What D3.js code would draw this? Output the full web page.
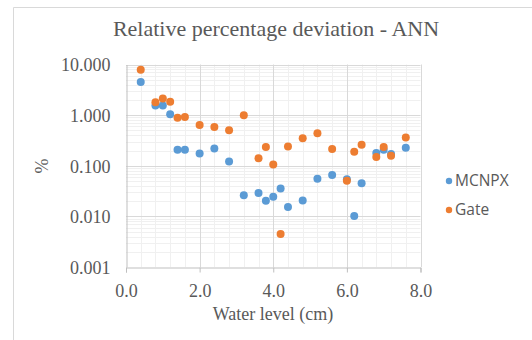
<!DOCTYPE html>
<html><head><meta charset="utf-8">
<script src="https://cdn.jsdelivr.net/npm/d3@7"></script>
<style>body{margin:0;background:#fff;}svg{display:block;}
svg text{font-family:"Liberation Serif","Times New Roman",serif !important;}
svg text.sans{font-family:"Open Sans","Liberation Sans",sans-serif !important;}
</style>
</head><body>
<svg id="c" width="532" height="340"></svg>
<script>
const waterLevel = [0.4,0.8,1.0,1.2,1.4,1.6,2.0,2.4,2.8,3.2,3.6,3.8,4.0,4.2,4.4,4.8,5.2,5.6,6.0,6.2,6.4,6.8,7.0,7.2,7.6];
const mcnpx = [4.5,1.55,1.55,1.04,0.207,0.207,0.175,0.22,0.122,0.026,0.029,0.0203,0.0243,0.0355,0.0154,0.0206,0.0553,0.066,0.054,0.0102,0.045,0.178,0.207,0.17,0.227];
const gate = [7.9,1.79,2.12,1.83,0.89,0.92,0.64,0.58,0.50,1.0,0.14,0.235,0.106,0.0045,0.24,0.35,0.44,0.214,0.0505,0.19,0.26,0.149,0.235,0.158,0.36];
const xTicks = [0,2,4,6,8];
const yTicks = [0.001,0.01,0.1,1,10];
const seriesNames = ["MCNPX","Gate"];
const colors = ["#5B9BD5","#ED7D31"];

const svg = d3.select("#c");
svg.append("line").attr("x1",13.5).attr("x2",532).attr("y1",7.5).attr("y2",7.5).attr("stroke","#d9d9d9");
svg.append("line").attr("x1",13.5).attr("x2",13.5).attr("y1",7.5).attr("y2",340).attr("stroke","#d9d9d9");

const L=126, R=420.5, T=64.5, B=267;
const x = d3.scaleLinear().domain([0,8]).range([L,R]);
const y = d3.scaleLog().domain([0.001,10]).range([B,T]);

const g = svg.append("g");
const minorX = d3.range(0,8.0001,0.4).filter(v=>Math.abs(v/2-Math.round(v/2))>1e-6);
g.selectAll(".mx").data(minorX).join("line")
  .attr("x1",d=>Math.round(x(d))+0.5).attr("x2",d=>Math.round(x(d))+0.5).attr("y1",T).attr("y2",B)
  .attr("stroke","#f0f0f0");
const minorY=[];
[0.001,0.01,0.1,1].forEach(d=>{for(let k=2;k<=9;k++)minorY.push(d*k);});
g.selectAll(".my").data(minorY).join("line")
  .attr("x1",L).attr("x2",R).attr("y1",d=>Math.round(y(d))+0.5).attr("y2",d=>Math.round(y(d))+0.5)
  .attr("stroke","#f0f0f0");
g.selectAll(".Mx").data(xTicks.slice(1)).join("line")
  .attr("x1",d=>Math.round(x(d))+0.5).attr("x2",d=>Math.round(x(d))+0.5).attr("y1",T).attr("y2",B)
  .attr("stroke","#d9d9d9");
g.selectAll(".My").data(yTicks.slice(1)).join("line")
  .attr("x1",L).attr("x2",R).attr("y1",d=>Math.round(y(d))+0.5).attr("y2",d=>Math.round(y(d))+0.5)
  .attr("stroke","#d9d9d9");

const xAxis = d3.axisBottom(x).tickValues(xTicks).tickFormat(d3.format(".1f")).tickSize(5).tickPadding(12);
const yAxis = d3.axisLeft(y).tickValues(yTicks).tickFormat(d3.format(".3f")).tickSize(0).tickPadding(16);
const gx = svg.append("g").attr("transform",`translate(0,${B+0.5})`).call(xAxis);
const gy = svg.append("g").attr("transform",`translate(${L+0.5},0)`).call(yAxis);
[gx,gy].forEach(a=>{
  a.attr("font-family",null).attr("font-size",null);
  a.select(".domain").attr("stroke","#bfbfbf");
  a.selectAll(".tick line").attr("stroke","#bfbfbf");
  a.selectAll("text").attr("fill","#595959").attr("font-size","18px");
});
gy.selectAll("text").attr("dy","0.35em");

seriesNames.forEach((name,i)=>{
  const vals = i===0?mcnpx:gate;
  svg.append("g").selectAll("circle").data(waterLevel.map((w,j)=>[w,vals[j]])).join("circle")
    .attr("cx",d=>x(d[0])).attr("cy",d=>y(d[1])).attr("r",4)
    .attr("fill",colors[i]);
});

svg.append("text").attr("x",276).attr("y",36).attr("text-anchor","middle")
  .attr("fill","#595959").attr("font-size","22px")
  .text("Relative percentage deviation - ANN");
svg.append("text").attr("x",273).attr("y",320).attr("text-anchor","middle")
  .attr("fill","#595959").attr("font-size","18px")
  .text("Water level (cm)");
svg.append("text").attr("transform","translate(48,166) rotate(-90)").attr("text-anchor","middle")
  .attr("fill","#595959").attr("font-size","18px")
  .text("%");

seriesNames.forEach((name,i)=>{
  const ly = 181 + i*29;
  svg.append("circle").attr("cx",449).attr("cy",ly).attr("r",3.2).attr("fill",colors[i]);
  svg.append("text").attr("class","sans").attr("x",455).attr("y",ly).attr("dy","0.35em")
    .attr("fill","#595959").attr("font-size","15.5px")
    .text(name);
});
</script>
</body></html>
